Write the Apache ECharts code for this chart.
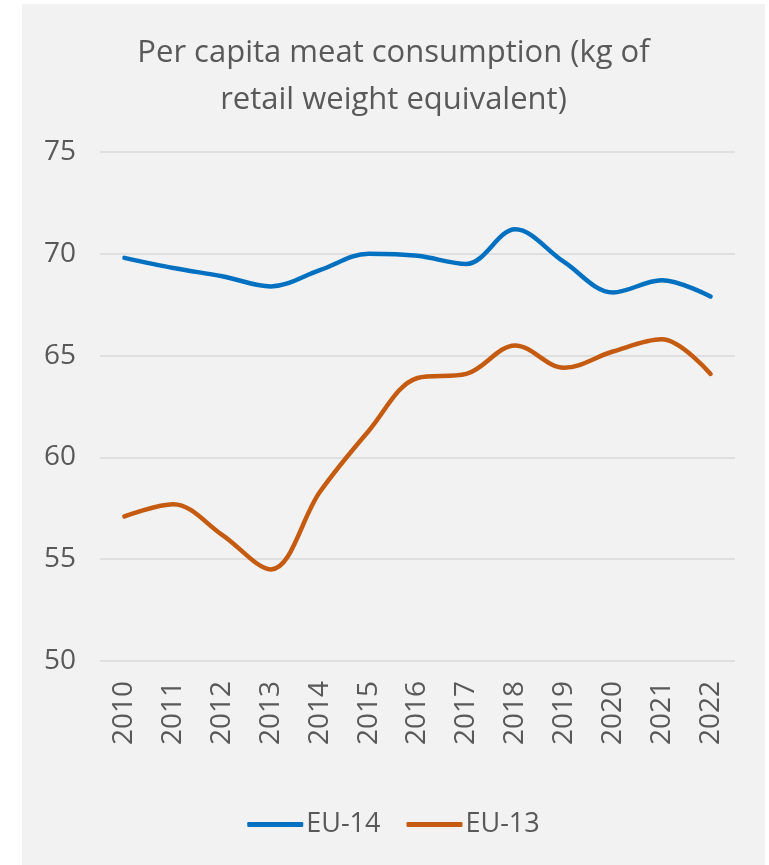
<!DOCTYPE html>
<html>
<head>
<meta charset="utf-8">
<script src="https://cdn.jsdelivr.net/npm/echarts@6/dist/echarts.min.js"></script>
<style>
  html, body { margin: 0; padding: 0; background: #ffffff; }
  #chart { position: absolute; left: 22px; top: 4px; width: 743px; height: 861px; }
</style>
</head>
<body>
<div id="chart"></div>
<script>
'use strict';

var years = ['2010', '2011', '2012', '2013', '2014', '2015', '2016', '2017', '2018', '2019', '2020', '2021', '2022'];
var eu14 = [69.8, 69.3, 68.9, 68.4, 69.2, 70.0, 69.9, 69.5, 71.2, 69.6, 68.1, 68.7, 67.9];
var eu13 = [57.1, 57.7, 56.2, 54.5, 58.3, 61.3, 63.9, 64.1, 65.5, 64.4, 65.2, 65.8, 64.1];

var textColor = '#595959';
var fontName = '"Open Sans", sans-serif';

var chart = echarts.init(document.getElementById('chart'));

var option = {
    backgroundColor: '#f2f2f2',
    animation: false,
    title: {
        text: 'Per capita meat consumption (kg of\nretail weight equivalent)',
        left: 'center',
        top: 21,
        textStyle: {
            color: textColor,
            fontFamily: fontName,
            fontSize: 31,
            fontWeight: 'normal',
            lineHeight: 47
        }
    },
    legend: {
        bottom: 22,
        left: 'center',
        icon: 'roundRect',
        itemWidth: 56,
        itemHeight: 5,
        itemGap: 26,
        textStyle: {
            color: textColor,
            fontFamily: fontName,
            fontSize: 27,
            padding: [0, 0, 0, -2]
        },
        data: ['EU-14', 'EU-13']
    },
    grid: {
        left: 78,
        right: 30,
        top: 148,
        bottom: 204,
        containLabel: false
    },
    xAxis: {
        type: 'category',
        data: years,
        boundaryGap: true,
        axisLine: { show: false },
        axisTick: { show: false },
        axisLabel: {
            rotate: 90,
            margin: 20,
            color: textColor,
            fontFamily: fontName,
            fontSize: 28
        }
    },
    yAxis: {
        type: 'value',
        min: 50,
        max: 75,
        interval: 5,
        axisLine: { show: false },
        axisTick: { show: false },
        axisLabel: {
            margin: 24,
            color: textColor,
            fontFamily: fontName,
            fontSize: 28
        },
        splitLine: {
            lineStyle: { color: '#d9d9d9', width: 1.5 }
        }
    },
    series: [
        {
            name: 'EU-14',
            type: 'line',
            data: eu14,
            smooth: 0.35,
            showSymbol: false,
            lineStyle: { color: '#0070c0', width: 4.5, cap: 'round' },
            itemStyle: { color: '#0070c0' }
        },
        {
            name: 'EU-13',
            type: 'line',
            data: eu13,
            smooth: 0.35,
            showSymbol: false,
            lineStyle: { color: '#c55a11', width: 4.5, cap: 'round' },
            itemStyle: { color: '#c55a11' }
        }
    ]
};

chart.setOption(option);
</script>
</body>
</html>
